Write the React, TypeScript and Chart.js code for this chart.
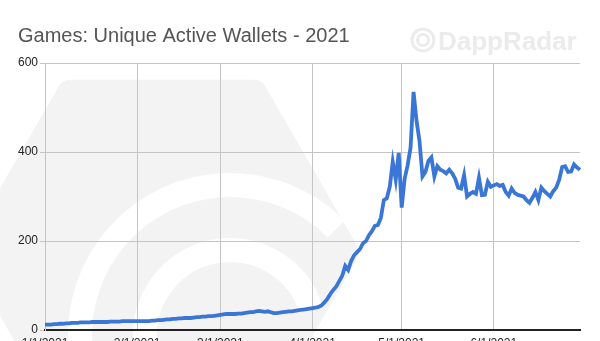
import React, { useEffect, useRef } from "react";
import { Chart, registerables } from "chart.js";

Chart.register(...registerables);

const TITLE = "Games: Unique Active Wallets - 2021";
const WATERMARK = "DappRadar";

// Daily categories, 1 Jan 2021 .. 30 Jun 2021
const MONTH_DAYS = [31, 28, 31, 30, 31, 30];
const DATES: string[] = [];
MONTH_DAYS.forEach((n, m) => {
  for (let d = 1; d <= n; d++) DATES.push(`${m + 1}/${d}/2021`);
});

const MONTH_TICKS = ["1/1/2021", "2/1/2021", "3/1/2021", "4/1/2021", "5/1/2021", "6/1/2021"];
const Y_TICKS = [0, 200, 400, 600];

// Unique active wallets (thousands), one value per day
const WALLETS = [
  12, 12, 12, 13, 13, 14, 14, 15, 15, 16,
  16, 16, 17, 17, 17, 17, 18, 18, 18, 18,
  18, 18, 19, 19, 19, 19, 20, 20, 20, 20,
  20, 20, 20, 20, 20, 20, 21, 21, 22, 22,
  23, 24, 24, 25, 25, 26, 26, 27, 27, 27,
  28, 29, 29, 30, 30, 31, 31, 32, 33, 34,
  35, 36, 36, 36, 36, 37, 37, 38, 39, 40,
  40, 42, 43, 42, 41, 42, 40, 38, 38, 39,
  40, 41, 42, 42, 43, 44, 45, 46, 47, 48,
  49, 50, 52, 55, 62, 70, 81, 90, 98, 110,
  122, 144, 135, 155, 168, 175, 182, 195, 200, 213,
  222, 234, 236, 252, 292, 296, 322, 378, 338, 398,
  275, 340, 370, 410, 535, 470, 425, 345, 355, 380,
  388, 345, 368, 360, 357, 352, 360, 352, 340, 320,
  318, 348, 300, 306, 310, 306, 342, 303, 304, 333,
  322, 325, 328, 324, 326, 310, 302, 318, 308, 304,
  302, 300, 292, 286, 297, 310, 292, 320, 312, 306,
  300, 312, 320, 338, 366, 368, 355, 356, 372, 365,
  360,
];

const FONT = '"Liberation Sans", Arial, sans-serif';
const GRID = "#c4c4c4";
const LINE = "#3a76d6";

const watermarkPlugin = {
  id: "watermark",
  beforeDraw(chart: any) {
    const ctx = chart.ctx as CanvasRenderingContext2D;
    ctx.save();
    // big faint logo in the background
    const cx = 162, cy = 252, R = 185;
    ctx.fillStyle = "#f3f3f3";
    ctx.beginPath();
    for (let i = 0; i < 6; i++) {
      const a = (Math.PI / 3) * i;
      const x = cx + R * Math.cos(a);
      const y = cy + R * Math.sin(a);
      if (i === 0) ctx.moveTo(x, y);
      else ctx.lineTo(x, y);
    }
    ctx.closePath();
    ctx.lineJoin = "round";
    ctx.strokeStyle = "#f3f3f3";
    ctx.lineWidth = 24;
    ctx.stroke();
    ctx.fill();
    ctx.strokeStyle = "#ffffff";
    ctx.lineWidth = 24;
    ctx.beginPath();
    ctx.arc(230, 335, 150, Math.PI * 0.95, Math.PI * 1.75);
    ctx.stroke();
    ctx.beginPath();
    ctx.arc(230, 335, 85, Math.PI * 0.95, Math.PI * 1.9);
    ctx.stroke();

    // top-right text watermark
    ctx.strokeStyle = "#ebebeb";
    ctx.lineWidth = 3;
    ctx.beginPath();
    ctx.arc(423, 40, 11, 0, Math.PI * 2);
    ctx.stroke();
    ctx.beginPath();
    ctx.arc(423, 40, 5.5, 0, Math.PI * 2);
    ctx.stroke();
    ctx.fillStyle = "#ebebeb";
    ctx.font = `bold 26px ${FONT}`;
    ctx.textBaseline = "alphabetic";
    ctx.textAlign = "left";
    ctx.fillText(WATERMARK, 438, 50);
    ctx.restore();
  },
};

export default function App() {
  const ref = useRef<HTMLCanvasElement | null>(null);

  useEffect(() => {
    document.body.style.margin = "0";
    const canvas = ref.current;
    if (!canvas) return;
    const H = 352;
    const chart = new Chart(canvas, {
      type: "line",
      data: {
        labels: DATES,
        datasets: [
          {
            data: WALLETS,
            borderColor: LINE,
            borderWidth: 3.8,
            pointRadius: 0,
            tension: 0,
            fill: false,
          },
        ],
      },
      options: {
        responsive: false,
        animation: false,
        layout: { padding: { left: 18, right: 20, top: 0, bottom: 0 } },
        plugins: {
          legend: { display: false },
          tooltip: { enabled: false },
          title: {
            display: true,
            text: TITLE,
            align: "start",
            color: "#555555",
            font: { family: FONT, size: 20, weight: "normal" },
            padding: { top: 24, bottom: 15 },
          },
        },
        scales: {
          x: {
            type: "category",
            afterFit: (s: any) => {
              s.height = H - 330;
            },
            grid: {
              drawTicks: false,
              color: (c: any) =>
                c.tick && MONTH_TICKS.includes(DATES[c.tick.value]) ? GRID : "rgba(0,0,0,0)",
              lineWidth: 1,
            },
            border: { color: "#222222", width: 2 },
            ticks: {
              autoSkip: false,
              maxRotation: 0,
              padding: 6,
              color: "#222222",
              font: { family: FONT, size: 12 },
              callback: (_v: any, i: number) =>
                MONTH_TICKS.includes(DATES[i]) ? DATES[i] : "",
            },
          },
          y: {
            min: 0,
            max: 600,
            afterFit: (s: any) => {
              s.width = 27;
            },
            afterBuildTicks: (s: any) => {
              s.ticks = Y_TICKS.map((v) => ({ value: v }));
            },
            grid: { color: GRID, tickLength: 5, lineWidth: 1 },
            border: { color: GRID },
            ticks: {
              padding: 2,
              color: "#222222",
              font: { family: FONT, size: 12 },
            },
          },
        },
      },
      plugins: [watermarkPlugin],
    });
    return () => chart.destroy();
  }, []);

  return (
    <div
      style={{
        position: "fixed",
        left: 0,
        top: 0,
        width: 600,
        height: 341,
        overflow: "hidden",
        background: "#ffffff",
      }}
    >
      <canvas ref={ref} width={600} height={352} style={{ width: 600, height: 352, display: "block" }} />
    </div>
  );
}
